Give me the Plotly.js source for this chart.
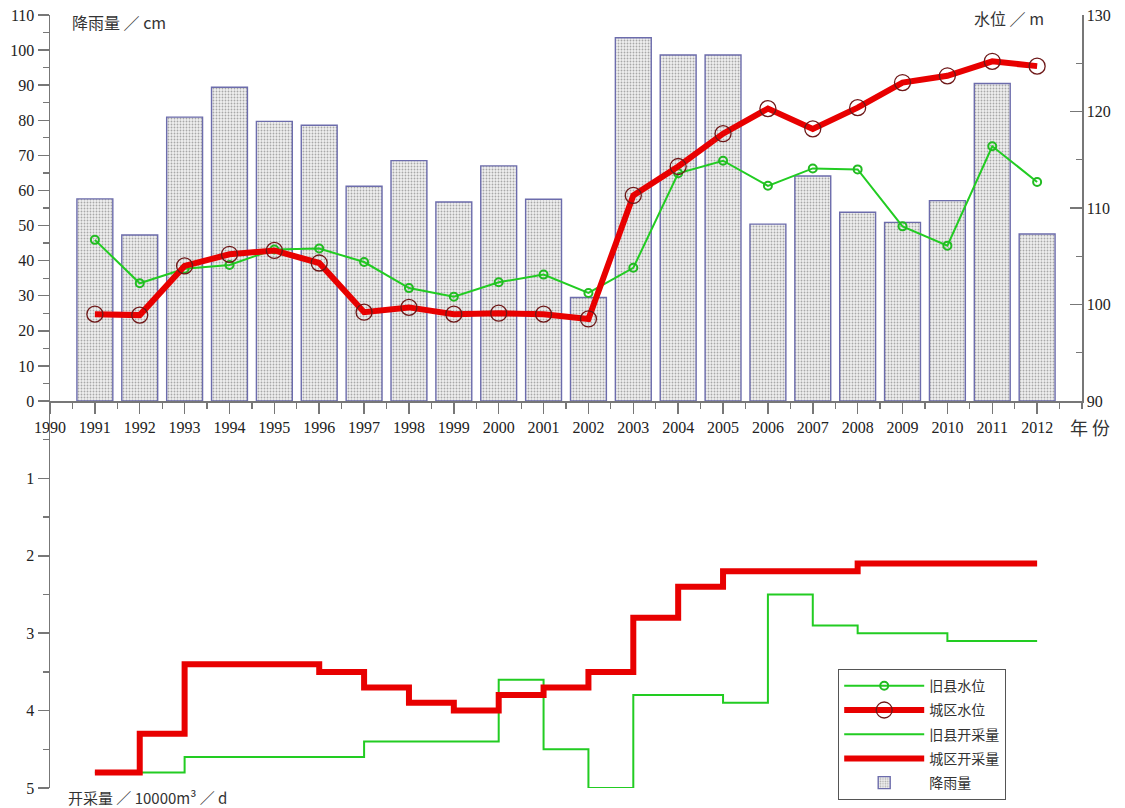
<!DOCTYPE html>
<html>
<head>
<meta charset="utf-8">
<script src="https://cdn.plot.ly/plotly-3.0.1.min.js"></script>
<style>html,body{margin:0;padding:0;background:#fff;}#chart{width:1125px;height:808px;}</style>
</head>
<body>
<div id="chart"></div>
<script>
const years = [1991,1992,1993,1994,1995,1996,1997,1998,1999,2000,2001,2002,2003,2004,2005,2006,2007,2008,2009,2010,2011,2012];
const rainfall = [57.6,47.3,80.9,89.4,79.7,78.6,61.2,68.5,56.7,67.0,57.5,29.5,103.5,98.6,98.6,50.4,64.1,53.8,50.9,57.1,90.5,47.6];
const jiuxianLevel = [106.7,102.2,103.7,104.1,105.7,105.8,104.4,101.7,100.8,102.3,103.1,101.2,103.8,113.6,114.9,112.3,114.1,114.0,108.1,106.1,116.4,112.7];
const chengquLevel = [99.0,98.9,104.0,105.2,105.6,104.3,99.2,99.7,99.0,99.1,99.0,98.5,111.3,114.3,117.7,120.3,118.2,120.4,123.0,123.7,125.2,124.7];
const jiuxianPump = [4.8,4.8,4.6,4.6,4.6,4.6,4.4,4.4,4.4,3.6,4.5,5.0,3.8,3.8,3.9,2.5,2.9,3.0,3.0,3.1,3.1,3.1];
const chengquPump = [4.8,4.3,3.4,3.4,3.4,3.5,3.7,3.9,4.0,3.8,3.7,3.5,2.8,2.4,2.2,2.2,2.2,2.1,2.1,2.1,2.1,2.1];
const xTickYears = [1990,1991,1992,1993,1994,1995,1996,1997,1998,1999,2000,2001,2002,2003,2004,2005,2006,2007,2008,2009,2010,2011,2012];
const names = ['旧县水位','城区水位','旧县开采量','城区开采量','降雨量'];

const tickFont = {family:"'Liberation Serif', 'DejaVu Serif', serif", size:16, color:'#222'};
const cjkFont = {family:"'Noto Sans CJK SC', sans-serif", size:16, color:'#333'};
const axisGrey = '#777';

const traces = [
  {type:'bar', name:names[4], x:years, y:rainfall, xaxis:'x', yaxis:'y', width:0.8,
   legendrank:5, legendgroup:'g5',
   marker:{color:'#eeeeee', line:{color:'#6c6cac', width:1.4},
           pattern:{shape:'.', fgcolor:'#a8a8a8', bgcolor:'#f0f0f0', size:3, solidity:0.3}}},
  {type:'scatter', mode:'lines+markers', name:names[0], x:years, y:jiuxianLevel, xaxis:'x', yaxis:'y2',
   legendrank:1, legendgroup:'g1',
   line:{color:'#22cc22', width:2},
   marker:{symbol:'circle-open', size:8, color:'#22bb22', line:{width:2}}},
  {type:'scatter', mode:'lines+markers', name:names[1], x:years, y:chengquLevel, xaxis:'x', yaxis:'y2',
   legendrank:2, legendgroup:'g2',
   line:{color:'#e80000', width:6},
   marker:{symbol:'circle-open', size:16, color:'#6e1818', line:{width:1.3}}},
  {type:'scatter', mode:'lines', name:names[2], x:years, y:jiuxianPump, xaxis:'x', yaxis:'y3',
   legendrank:3, legendgroup:'g3',
   line:{color:'#22cc22', width:2, shape:'hv'}},
  {type:'scatter', mode:'lines', name:names[3], x:years, y:chengquPump, xaxis:'x', yaxis:'y3',
   legendrank:4, legendgroup:'g4',
   line:{color:'#e80000', width:6, shape:'hv'}}
];

const split = (788-401)/773;
const layout = {
  width:1125, height:808,
  margin:{l:50, r:43, t:15, b:20, autoexpand:false},
  paper_bgcolor:'#fff', plot_bgcolor:'rgba(0,0,0,0)',
  showlegend:true,
  bargap:0.2,
  xaxis:{range:[1990,2013], anchor:'y', tickvals:xTickYears, ticktext:xTickYears.map(String),
         ticks:'outside', ticklen:11, tickcolor:axisGrey, tickwidth:1.5,
         showline:true, linecolor:axisGrey, linewidth:1.5, showgrid:false, zeroline:false,
         tickfont:tickFont, automargin:false,
         minor:{dtick:0.5, tick0:0.5, ticks:'outside', ticklen:6, tickcolor:axisGrey, tickwidth:1.2, showgrid:false}},
  yaxis:{domain:[split,1], range:[0,110], dtick:10, tick0:0, automargin:false,
         ticks:'outside', ticklen:11, tickcolor:axisGrey, tickwidth:1.5,
         showline:true, linecolor:axisGrey, linewidth:1.5, showgrid:false, zeroline:false,
         tickfont:tickFont,
         minor:{dtick:5, tick0:0, ticks:'outside', ticklen:6, tickcolor:axisGrey, tickwidth:1.2, showgrid:false}},
  yaxis2:{overlaying:'y', side:'right', anchor:'x', range:[90,130], dtick:10, tick0:90, automargin:false,
          ticks:'inside', ticklen:12, tickcolor:axisGrey, tickwidth:1.5,
          showline:true, linecolor:axisGrey, linewidth:1.5, showgrid:false, zeroline:false,
          tickfont:tickFont,
          minor:{dtick:5, tick0:90, ticks:'inside', ticklen:6, tickcolor:axisGrey, tickwidth:1.2, showgrid:false}},
  yaxis3:{domain:[0,split], range:[5,0], anchor:'x', tickvals:[1,2,3,4,5], automargin:false,
          ticks:'outside', ticklen:11, tickcolor:axisGrey, tickwidth:1.5,
          showline:true, linecolor:axisGrey, linewidth:1.5, showgrid:false, zeroline:false,
          tickfont:tickFont,
          minor:{tickvals:[0.5,1.5,2.5,3.5,4.5], ticks:'outside', ticklen:6, tickcolor:axisGrey, tickwidth:1.2, showgrid:false}},
  legend:{x:(838-50)/1032, y:(788-669)/773, xanchor:'left', yanchor:'top',
          bgcolor:'#fff', bordercolor:'#555', borderwidth:1.2,
          font:{family:"'Noto Sans CJK SC', sans-serif", size:14, color:'#333'},
          traceorder:'grouped', tracegroupgap:3, itemwidth:80},
  annotations:[
    {xref:'paper', yref:'paper', x:(70-50)/1032, y:(788-22)/773, xanchor:'left', yanchor:'middle',
     text:'降雨量 ／ cm', showarrow:false, font:cjkFont},
    {xref:'paper', yref:'paper', x:(1046-50)/1032, y:(788-18)/773, xanchor:'right', yanchor:'middle',
     text:'水位 ／ m', showarrow:false, font:cjkFont},
    {xref:'paper', yref:'paper', x:(1068-50)/1032, y:(788-427)/773, xanchor:'left', yanchor:'middle',
     text:'年 份', showarrow:false, font:{family:"'Noto Sans CJK SC', sans-serif", size:18, color:'#333'}},
    {xref:'paper', yref:'paper', x:(66-50)/1032, y:(788-797)/773, xanchor:'left', yanchor:'middle',
     text:'开采量 ／ 10000m³ ／ d', showarrow:false, font:{family:"'Noto Sans CJK SC', sans-serif", size:15, color:'#333'}}
  ]
};

Plotly.newPlot('chart', traces, layout, {displayModeBar:false, staticPlot:true});
</script>
</body>
</html>
